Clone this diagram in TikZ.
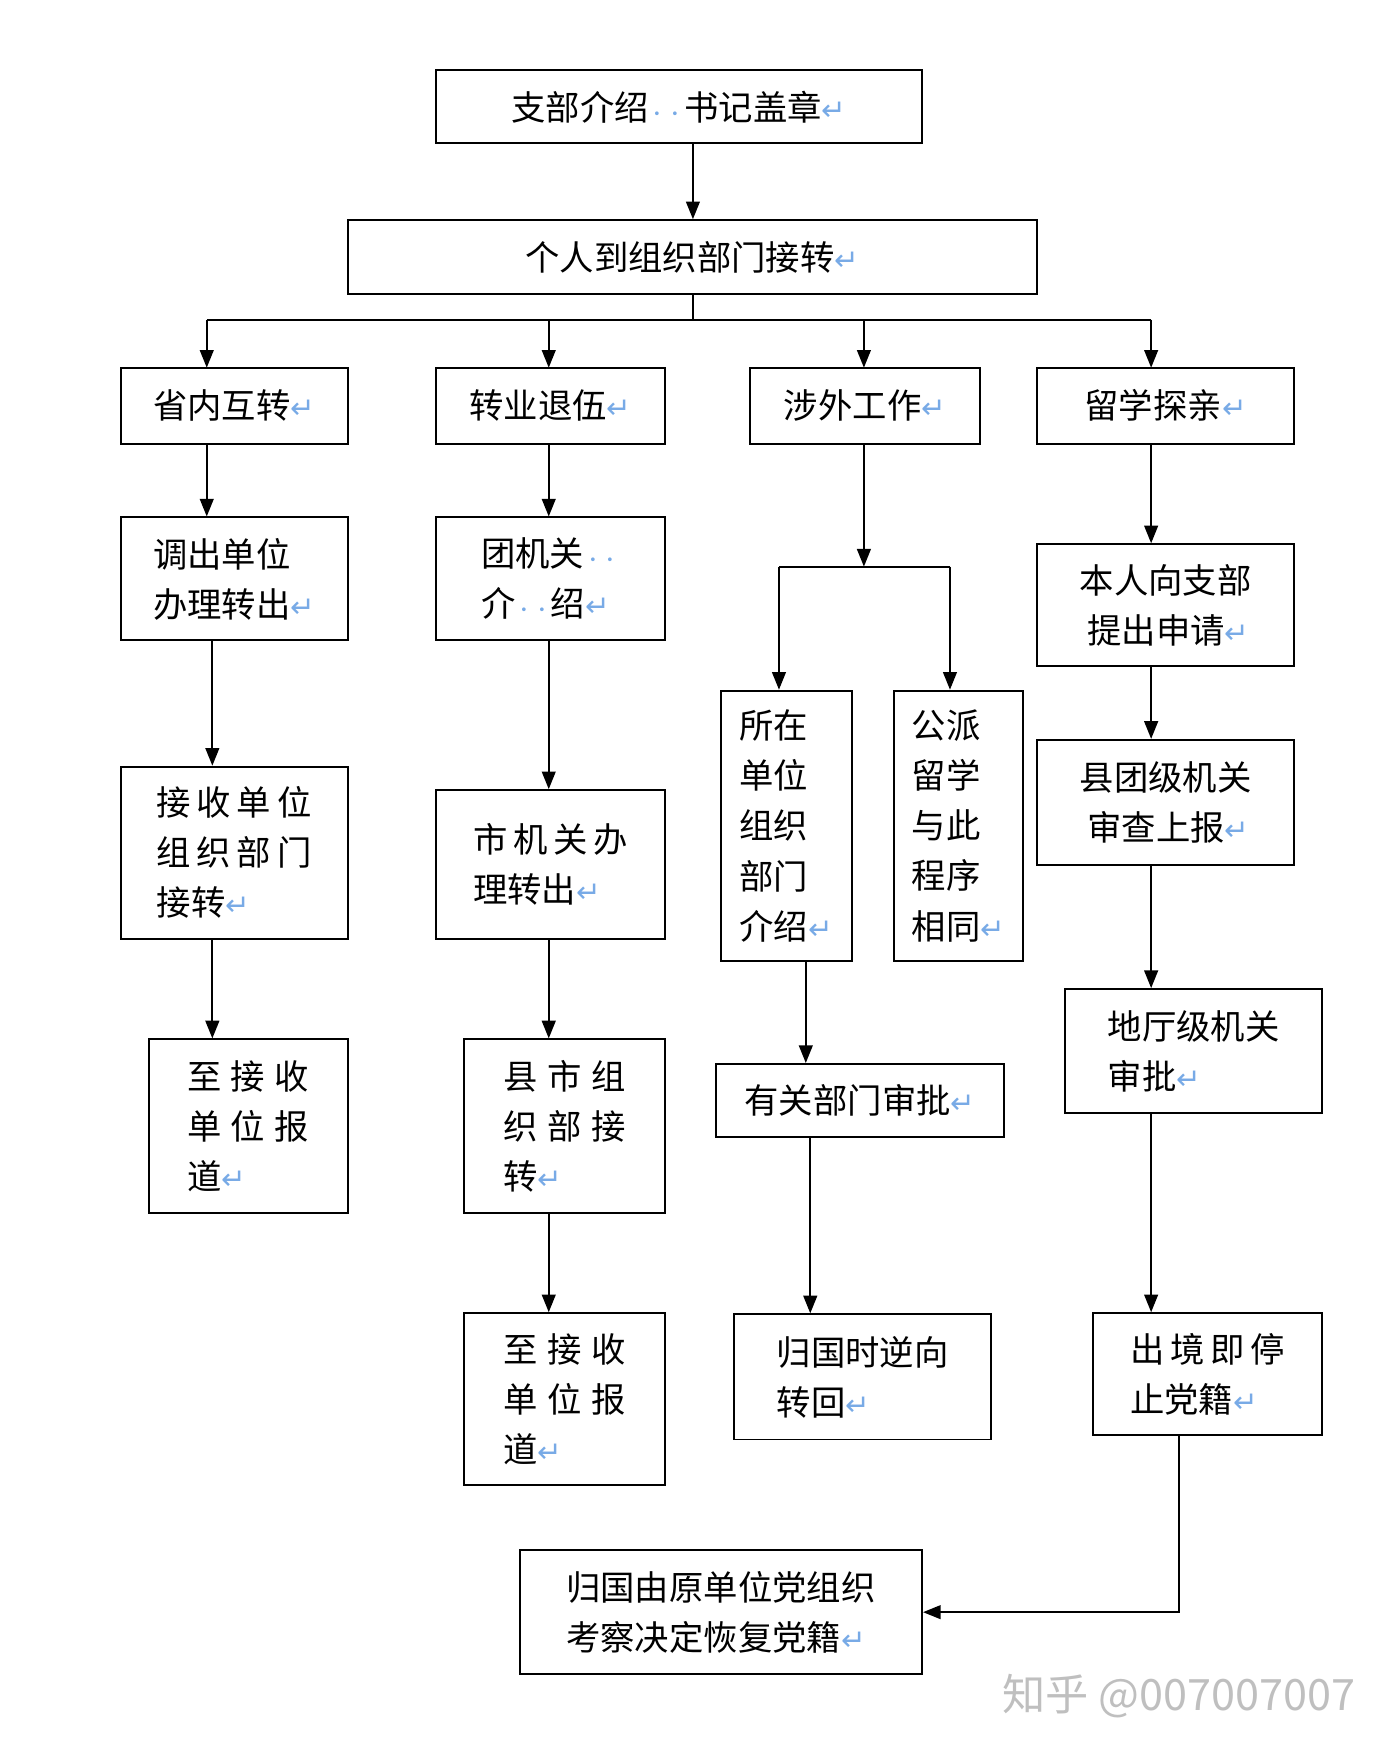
\documentclass[tikz,border=0pt]{standalone}
\usepackage{fontspec}
\setmainfont{Noto Sans CJK SC}
\newfontfamily\symf{DejaVu Sans}
\usetikzlibrary{arrows.meta}
\definecolor{retblue}{RGB}{120,170,230}
\newcommand\ret{{\symf\color{retblue}\fontsize{15pt}{15pt}\selectfont ↵}}
\newcommand\dd{{\color{retblue}\small ··}}
\newcommand\bx[6]{\node[box,minimum width={(#4-#2)*0.02cm},minimum height={(#5-#3)*0.02cm}] (#1) at ({(#2+#4)/2},{(#3+#5)/2}) {#6};}
\begin{document}
\begin{tikzpicture}[x=0.02cm,y=-0.02cm,
  box/.style={draw,line width=1pt,align=left,inner sep=0pt,font=\fontsize{17.5pt}{25.5pt}\selectfont},
  arr/.style={line width=1pt,-{Triangle[length=9pt,width=7pt]}},
  ln/.style={line width=1pt}]
\useasboundingbox (0,0) rectangle (1240,1573);
\bx{top}{390}{63}{825}{128}{支部介绍\dd 书记盖章\ret}
\bx{ind}{311}{197}{928}{263}{个人到组织部门接转\ret}
\bx{sn}{108}{329}{311}{397}{省内互转\ret}
\bx{zy}{390}{329}{595}{397}{转业退伍\ret}
\bx{sw}{671}{329}{877}{397}{涉外工作\ret}
\bx{lx}{928}{329}{1158}{397}{留学探亲\ret}
\bx{a1}{108}{463}{311}{573}{调出单位\\办理转出\ret}
\bx{a2}{108}{686}{311}{840}{接\,收\,单\,位\\组\,织\,部\,门\\接转\ret}
\bx{a3}{133}{930}{311}{1085}{至\;接\;收\\单\;位\;报\\道\ret}
\bx{b1}{390}{463}{595}{573}{团机关\dd\\介\dd 绍\ret}
\bx{b2}{390}{707}{595}{840}{市\,机\,关\,办\\理转出\ret}
\bx{b3}{415}{930}{595}{1085}{县\;市\;组\\织\;部\;接\\转\ret}
\bx{b4}{415}{1175}{595}{1329}{至\;接\;收\\单\;位\;报\\道\ret}
\bx{c1}{645}{618}{762}{860}{所在\\单位\\组织\\部门\\介绍\ret}
\bx{c2}{800}{618}{915}{860}{公派\\留学\\与此\\程序\\相同\ret}
\bx{c3}{641}{952}{898}{1017}{有关部门审批\ret}
\bx{c4}{657}{1176}{887}{1288}{归国时逆向\\转回\ret}
\bx{d1}{928}{487}{1158}{596}{本人向支部\\\ 提出申请\ret}
\bx{d2}{928}{662}{1158}{774}{县团级机关\\\ 审查上报\ret}
\bx{d3}{953}{885}{1183}{996}{地厅级机关\\审批\ret}
\bx{d4}{978}{1175}{1183}{1284}{出\,境\,即\,停\\止党籍\ret}
\bx{back}{465}{1387}{825}{1498}{归国由原单位党组织\\考察决定恢复党籍\ret}
\node[font=\fontsize{22pt}{22pt}\selectfont,text=black!25] (wm) at (1055,1518) {知乎 @007007007};
% connectors
\coordinate (bus) at (620,286);
\draw[arr] (top.south -| bus) -- (ind.north -| bus);
\draw[ln] (ind.south -| bus) -- (bus);
\draw[ln] (185,286) -- (1030,286);
\draw[arr] (185,286) -- (185,329);
\draw[arr] (491,286) -- (491,329);
\draw[arr] (773,286) -- (773,329);
\draw[arr] (1030,286) -- (1030,329);
\draw[arr] (sn.south -| 185,0) -- (a1.north -| 185,0);
\draw[arr] (a1.south -| 190,0) -- (a2.north -| 190,0);
\draw[arr] (a2.south -| 190,0) -- (a3.north -| 190,0);
\draw[arr] (zy.south -| 491,0) -- (b1.north -| 491,0);
\draw[arr] (b1.south -| 491,0) -- (b2.north -| 491,0);
\draw[arr] (b2.south -| 491,0) -- (b3.north -| 491,0);
\draw[arr] (b3.south -| 491,0) -- (b4.north -| 491,0);
\coordinate (split) at (773,507);
\draw[arr] (sw.south -| 773,0) -- (split);
\draw[ln] (697,507) -- (850,507);
\draw[arr] (697,507) -- (c1.north -| 697,0);
\draw[arr] (850,507) -- (c2.north -| 850,0);
\draw[arr] (c1.south -| 721,0) -- (c3.north -| 721,0);
\draw[arr] (c3.south -| 725,0) -- (c4.north -| 725,0);
\draw[arr] (lx.south -| 1030,0) -- (d1.north -| 1030,0);
\draw[arr] (d1.south -| 1030,0) -- (d2.north -| 1030,0);
\draw[arr] (d2.south -| 1030,0) -- (d3.north -| 1030,0);
\draw[arr] (d3.south -| 1030,0) -- (d4.north -| 1030,0);
\draw[arr] (d4.south -| 1055,0) |- (back.east);
\end{tikzpicture}
\end{document}
